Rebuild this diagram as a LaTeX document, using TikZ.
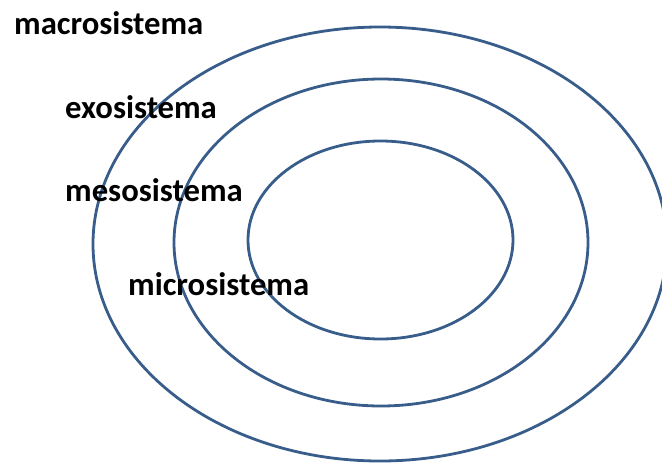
\documentclass[tikz,border=0pt]{standalone}
\usepackage{fontspec}
\setmainfont{Carlito}
\usepackage{xcolor}
\definecolor{ringblue}{RGB}{56, 93, 138}

\begin{document}
\begin{tikzpicture}[x=1pt,y=-1pt,
  ring/.style={draw=ringblue,line width=2.8pt},
  lbl/.style={anchor=west,inner sep=0pt,font=\fontsize{32.7}{38}\selectfont\bfseries}
]
  \useasboundingbox (0,0) rectangle (662,464);
  \coordinate (C) at (380,244);
  \draw[ring] (C) ellipse [x radius=287,y radius=217];
  \draw[ring] (381,242.5) ellipse [x radius=207,y radius=163.5];
  \draw[ring] (380.5,240) ellipse [x radius=132.5,y radius=99];
  \node[lbl] (macro) at (14,23) {macrosistema};
  \node[lbl] (exo) at (65,107) {exosistema};
  \node[lbl] (meso) at (65,190) {mesosistema};
  \node[lbl] (micro) at (128,284) {microsistema};
\end{tikzpicture}
\end{document}
